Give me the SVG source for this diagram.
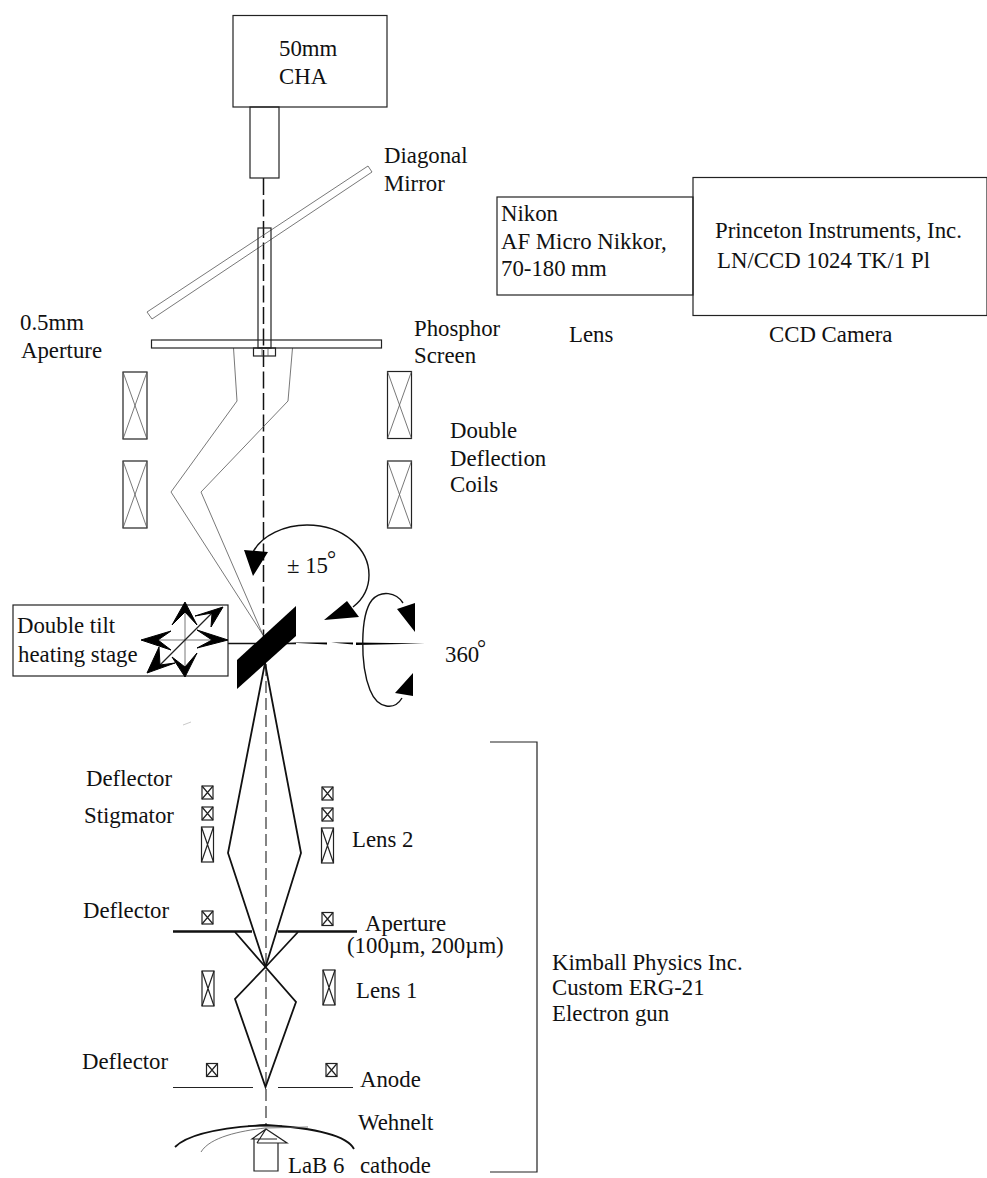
<svg xmlns="http://www.w3.org/2000/svg" width="987" height="1178" viewBox="0 0 987 1178">
<style>
text{font-family:"Liberation Serif","Times New Roman",serif;font-size:22.8px;fill:#111}
.b{fill:none;stroke:#222;stroke-width:1.2}
.t{fill:none;stroke:#555;stroke-width:.8}
.k{fill:none;stroke:#111;stroke-width:1.8}
.h{fill:none;stroke:#111;stroke-width:2.6}
.f{fill:#000;stroke:none}
.c{fill:none;stroke:#111;stroke-width:1.4}
.d{fill:none;stroke:#111;stroke-width:1.5;stroke-dasharray:17 4.500}
.e{fill:none;stroke:#333;stroke-width:1.2;stroke-dasharray:12 5}
</style>
<defs>
<g id="coil"><rect class="b" x="0" y="0" width="24" height="67"/><path class="t" d="M0 0L24 67M24 0L0 67"/></g>
<g id="sq"><rect class="b" x="0" y="0" width="11" height="13"/><path class="b" d="M0 0L11 13M11 0L0 13"/></g>
<g id="lc"><rect class="b" x="0" y="0" width="12" height="35"/><path class="b" d="M0 0L12 35M12 0L0 35"/></g>
</defs>
<rect width="987" height="1178" fill="#fff"/>
<g id="connectors">
<path class="d" d="M263.500 178V640"/>
<path class="e" d="M266 664V1125"/>
<path class="t" d="M233.500 348L237 401L171 492L263 635M292.500 348L288 401L201 492L263 635"/>
<path class="k" d="M265 663L228 853L265.500 967L235 999L265.500 1087L296 1002L265.500 967L301 853L265 663"/>
<path class="k" d="M235 932L265.500 967L298 932"/>
<path class="h" d="M173 931.500H252M278 931.500H357"/>
<path class="b" d="M173 1087.500H253M278 1087.500H353"/>
<path d="M228 643.500H296" stroke="#111" stroke-width="1.3"/>
<path class="f" d="M288 642.500H327V644.500ZM331 642.500H353L353 644.500ZM356 642.500L425 643.500L356 645Z"/>
<path class="c" d="M253 552C262 535 285 525 307 525C345 525 369 550 369 575C369 590 362 600 353 607"/>
<path class="c" d="M403 603C396 592 381 590 372 600C360 615 360 665 370 690C378 710 395 710 402 698"/>
<path class="f" d="M244 550L268 552L253 576ZM324 620L347 601L359 617ZM415 603V632L397 609ZM413 673V696L395 693Z"/>
</g>
<g id="cha"><rect class="b" x="233" y="15.500" width="154" height="91.500"/><text x="279" y="56">50mm</text><text x="279" y="84">CHA</text></g>
<g id="tube"><rect class="b" x="250" y="107" width="29" height="71"/></g>
<g id="mirror"><path class="t" stroke="#333" d="M147 312L152 319L372 172L368 166Z"/><text x="384" y="163">Diagonal</text><text x="384" y="191">Mirror</text></g>
<g id="aperture"><rect class="b" x="258" y="228" width="13" height="120"/><rect class="b" x="253.500" y="348" width="22" height="8"/><path class="t" d="M262 348V356M268 348V356"/><text x="20" y="330">0.5mm</text><text x="21" y="358">Aperture</text></g>
<g id="screen"><rect class="b" x="151.500" y="340" width="230" height="8"/><text x="414" y="336">Phosphor</text><text x="414" y="363">Screen</text></g>
<g id="lens-nikon"><rect class="b" x="497" y="197" width="196" height="98"/><text x="501" y="221">Nikon</text><text x="501" y="249">AF Micro Nikkor,</text><text x="501" y="276">70-180 mm</text><text x="569" y="342">Lens</text></g>
<g id="ccd"><rect class="b" x="693" y="177.500" width="294" height="138"/><text x="715" y="238">Princeton Instruments, Inc.</text><text x="717" y="268">LN/CCD 1024 TK/1 Pl</text><text x="769" y="342">CCD Camera</text></g>
<g id="coils"><use href="#coil" x="123" y="372"/><use href="#coil" x="123" y="461"/><use href="#coil" x="387.500" y="371.500"/><use href="#coil" x="387.500" y="461"/><text x="450" y="438">Double</text><text x="450" y="466">Deflection</text><text x="450" y="492">Coils</text></g>
<g id="stage"><rect class="b" x="13" y="605" width="215" height="71"/><text x="17" y="633">Double tilt</text><text x="18" y="662">heating stage</text>
<path class="t" d="M185 612V667M158 640H212" stroke="#444"/><path class="b" d="M212 613L160 665"/>
<path d="M185 602L197 625L185 612L172 625ZM185 677L172 657L185 667L197 653ZM141 640L171 631L158 640L171 650ZM228 640L197 630L212 640L197 648ZM223 607L195 616L212 613L211 627ZM147 673L175 663L160 665L159 647Z" fill="#000" stroke="#000" stroke-width="1"/></g>
<g id="sample"><path class="f" d="M296 606V636L237 689V660Z"/></g>
<text x="287" y="573">± 15</text><text x="327" y="567">°</text>
<text x="445" y="662">360</text><text x="477" y="656">°</text>
<path d="M183 725L191 722" stroke="#bbb" stroke-width=".8"/>
<g id="gun-lenses">
<use href="#sq" x="202" y="786"/><use href="#sq" x="202" y="807"/><use href="#lc" x="201.500" y="827"/>
<use href="#sq" x="322" y="787"/><use href="#sq" x="322" y="808"/><use href="#lc" x="321.500" y="828"/>
<use href="#sq" x="202" y="911"/><use href="#sq" x="322" y="912.500"/>
<use href="#lc" x="202" y="971"/><use href="#lc" x="323" y="970"/>
<use href="#sq" x="206.500" y="1063.500"/><use href="#sq" x="326" y="1063.500"/>
<text x="86" y="786">Deflector</text><text x="84" y="823">Stigmator</text><text x="352" y="847">Lens 2</text>
<text x="83" y="918">Deflector</text><text x="365" y="931">Aperture</text><text x="347" y="953">(100µm, 200µm)</text>
<text x="356" y="998">Lens 1</text><text x="82" y="1069">Deflector</text><text x="360" y="1087">Anode</text>
<text x="358" y="1130">Wehnelt</text><text x="288" y="1173">LaB 6</text><text x="360" y="1173">cathode</text>
</g>
<g id="cathode">
<path class="k" stroke-width="1.2" d="M175 1147C190 1132 230 1127 266 1125C300 1127 345 1132 354 1149"/>
<path class="t" d="M201 1152C210 1137 240 1131 265 1128L308 1127"/>
<path d="M248 1126H282" stroke="#111" stroke-width="1"/>
<path class="b" d="M254 1139V1171H278V1143M257 1143H287L266 1129L252 1139H277M266 1129L257 1143"/>
</g>
<g id="gun-bracket"><path class="b" d="M490 742H537V1172H490"/><text x="552" y="970">Kimball Physics Inc.</text><text x="552" y="995">Custom ERG-21</text><text x="552" y="1021">Electron gun</text></g>
</svg>
